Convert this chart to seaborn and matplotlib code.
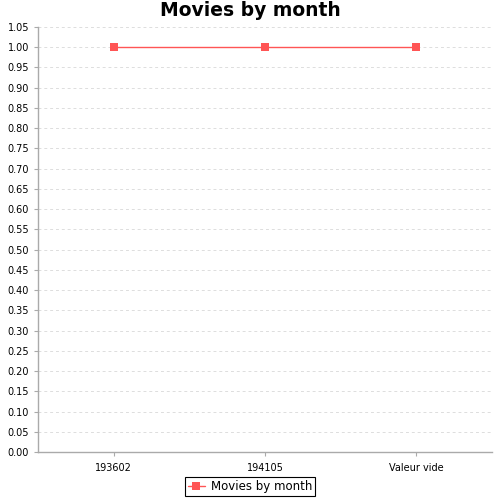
import matplotlib
matplotlib.use("Agg")
import matplotlib.pyplot as plt
import seaborn as sns
import pandas as pd
import numpy as np

months = ["193602", "194105", "Valeur vide"]
movies = [1, 1, 1]
yticks = np.round(np.arange(0, 1.051, 0.05), 2)

df = pd.DataFrame({"month": months, "movies": movies})

sns.set_style("white", {"xtick.bottom": True, "ytick.left": True,
                        "text.color": "black", "xtick.color": "black",
                        "ytick.color": "black"})
plt.rcParams["font.family"] = ["DejaVu Sans"]

fig = plt.figure(figsize=(5, 5), dpi=100)
ax = fig.add_axes([0.076, 0.096, 0.908, 0.85])

sns.lineplot(data=df, x="month", y="movies", marker="s", color="#ff5555",
             markersize=6, markeredgewidth=0, linewidth=1, ax=ax,
             label="Movies by month", sort=False)

ax.set_xlim(-0.5, 2.5)
ax.set_ylim(0, 1.05)
ax.set_yticks(yticks)
ax.set_yticklabels([f"{v:.2f}" for v in yticks])
ax.yaxis.grid(True, linestyle=(0, (3, 3)), color="#dddddd", linewidth=0.7)
ax.set_xlabel("")
ax.set_ylabel("")
ax.tick_params(axis="both", labelsize=7, length=3, color="#aaaaaa",
               labelcolor="black", direction="out", width=0.8)
ax.tick_params(axis="x", pad=5)
for s in ["top", "right"]:
    ax.spines[s].set_visible(False)
for s in ["left", "bottom"]:
    ax.spines[s].set_color("#aaaaaa")
    ax.spines[s].set_linewidth(1)

fig.suptitle("Movies by month", fontsize=13.5, fontweight="bold", color="black", y=0.997)

leg = ax.legend(loc="upper center", bbox_to_anchor=(0.5 - 0.03 / 0.908, -0.045), fontsize=8.5,
                frameon=True, fancybox=False, edgecolor="black", framealpha=1,
                handlelength=1.5, borderpad=0.25, handletextpad=0.5)
leg.get_frame().set_linewidth(0.8)
for t in leg.get_texts():
    t.set_color("black")

fig.savefig("out.png", dpi=100)
